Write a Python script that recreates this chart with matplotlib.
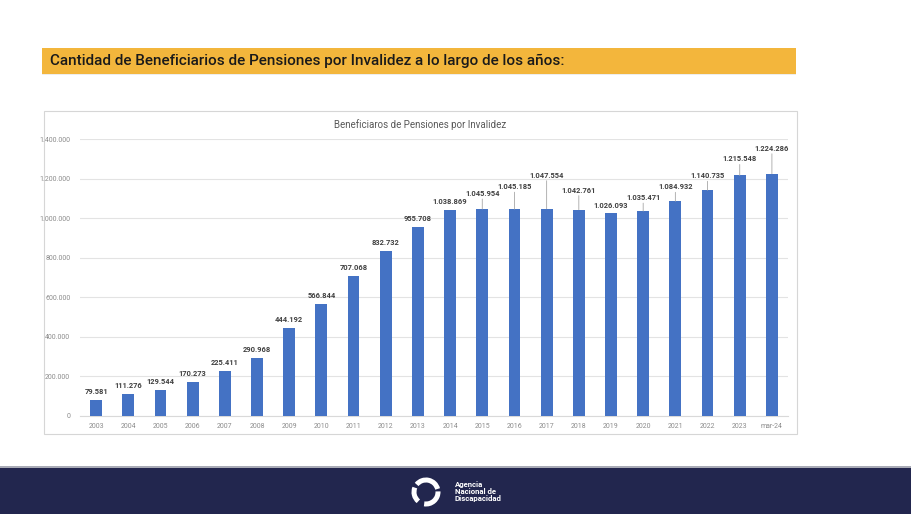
import matplotlib.pyplot as plt
from matplotlib.patches import Rectangle, Arc

plt.rcParams['font.family'] = ['Roboto', 'DejaVu Sans']

years = ['2003', '2004', '2005', '2006', '2007', '2008', '2009', '2010', '2011', '2012', '2013',
         '2014', '2015', '2016', '2017', '2018', '2019', '2020', '2021', '2022', '2023', 'mar-24']
beneficiarios = [79581, 111276, 129544, 170273, 225411, 290968, 444192, 566844, 707068, 832732, 955708,
                 1038869, 1045954, 1045185, 1047554, 1042761, 1026093, 1035471, 1084932, 1140735, 1215548, 1224286]

# how far each label sits above its bar (pixels), as in the original callouts
label_lift = [8, 8, 8, 8, 8, 8, 8, 8, 8, 8, 8,
              8, 15, 22, 33, 19, 7, 13, 14, 14, 16, 25]

W, H = 912, 514
fig = plt.figure(figsize=(W / 100, H / 100), dpi=100)
fig.patch.set_facecolor('white')


def box(x0, y0, x1, y1, **kw):
    # pixel coords (top-left origin) -> figure fraction
    fig.patches.append(Rectangle((x0 / W, 1 - y1 / H), (x1 - x0) / W, (y1 - y0) / H,
                                 transform=fig.transFigure, zorder=-1, **kw))


def fmt(v):
    return f'{v:,}'.replace(',', '.')


# yellow banner
box(42, 73, 796, 75, facecolor='#EDEDED', edgecolor='none')
box(42, 48, 796, 74, facecolor='#F3B63C', edgecolor='none')
fig.text(50 / W, 1 - 61 / H, 'Cantidad de Beneficiarios de Pensiones por Invalidez a lo largo de los años:',
         fontsize=11, color='#1A1A1A', va='center', ha='left', fontweight='medium')

# chart frame
box(44, 111, 797, 434, facecolor='white', edgecolor='#D6D6D6', linewidth=0.8)

# bottom band
box(0, 466, 912, 468, facecolor='#A9ABB6', edgecolor='none')
box(0, 468, 912, 514, facecolor='#22264E', edgecolor='none')

# logo: three white swooshes
cx, cy, r = 426 / W, 1 - 492 / H, 12
for t1, t2 in [(25, 125), (145, 245), (265, 365)]:
    fig.patches.append(Arc((cx, cy), 2 * r / W, 2 * r / H, theta1=t1, theta2=t2,
                           transform=fig.transFigure, color='white', linewidth=3.6))
fig.text(455 / W, 1 - 491 / H, 'Agencia\nNacional de\nDiscapacidad', fontsize=5.6, color='white',
         fontweight='bold', va='center', ha='left', linespacing=1.0)

# axes: x 80..788 px, y 139..416 px
ax = fig.add_axes([80 / W, 1 - 416 / H, 708 / W, 277 / H])
ax.set_zorder(2)
ax.set_facecolor('none')
x = range(len(years))
ax.bar(x, beneficiarios, width=0.37, color='#4472C4', zorder=3)
ax.set_xlim(-0.5, len(years) - 0.5)
ax.set_ylim(0, 1400000)
ax.set_yticks(range(0, 1400001, 200000))
ax.set_yticklabels([fmt(v) for v in range(0, 1400001, 200000)])
ax.set_xticks(list(x))
ax.set_xticklabels(years)
ax.tick_params(axis='both', length=0, labelsize=5, labelcolor='#8C8C8C')
ax.tick_params(axis='y', pad=7)
ax.tick_params(axis='x', pad=5)
ax.grid(axis='y', color='#E3E3E3', linewidth=0.8, zorder=0)
for s in ['top', 'right', 'left']:
    ax.spines[s].set_visible(False)
ax.spines['bottom'].set_color('#D9D9D9')

px = 0.72  # one pixel in points at 100 dpi
for i, (v, lift) in enumerate(zip(beneficiarios, label_lift)):
    ax.annotate(fmt(v), (i, v), xytext=(0, lift * px), textcoords='offset points',
                ha='center', va='center', fontsize=5.4, fontweight='bold', color='#404040', zorder=5)
    if lift > 10:
        ax.annotate('', (i, v), xytext=(0, (lift - 5) * px), textcoords='offset points',
                    arrowprops=dict(arrowstyle='-', color='#A6A6A6', lw=0.6, shrinkA=0, shrinkB=0))

fig.text(420 / W, 1 - 125 / H, 'Beneficiaros de Pensiones por Invalidez', fontsize=7, color='#595959',
         ha='center', va='center')

fig.savefig('out.png', dpi=100)
